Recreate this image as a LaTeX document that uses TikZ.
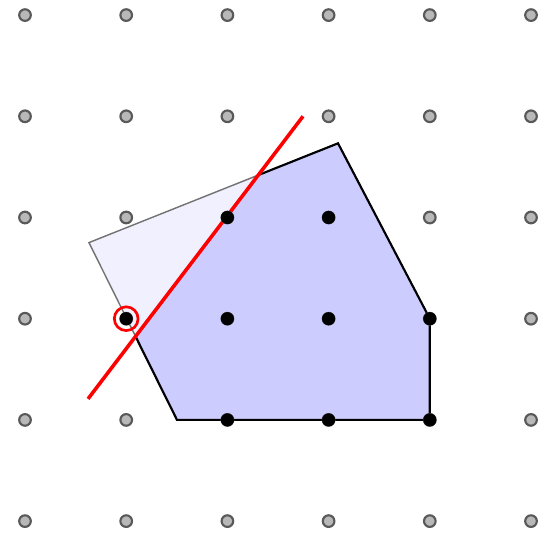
\documentclass[tikz,border=0pt]{standalone}
\begin{document}
\begin{tikzpicture}[x=1cm,y=1cm,
  graydot/.style={circle,draw=black!65,fill=black!28,line width=0.6pt,inner sep=0pt,minimum size=0.115cm},
  blackdot/.style={circle,fill=black,inner sep=0pt,minimum size=0.13cm},
  redline/.style={red,line width=1pt},
  lightpoly/.style={fill={rgb,255:red,240;green,240;blue,255},draw=black!55,line width=0.4pt},
  darkpoly/.style={fill={rgb,255:red,204;green,204;blue,255},draw=black,line width=0.6pt,line join=miter}]
\useasboundingbox (-0.247,-0.109) rectangle (5.079,5.149);
\coordinate (A) at (0.632,2.752);
\coordinate (B) at (3.093,3.733);
\coordinate (C) at (4,2);
\coordinate (D) at (4,1);
\coordinate (E) at (1.502,1);
\coordinate (L1) at (0.623,1.208);
\coordinate (L2) at (2.747,4.0);
% light polygon
\path[lightpoly] (A) -- (B) -- (C) -- (D) -- (E) -- cycle;
% dark part, right of the red line
\begin{scope}
  \clip (-1.057,-1) -- (4.269,6) -- (7,6) -- (7,-1) -- cycle;
  \path[darkpoly] (A) -- (B) -- (C) -- (D) -- (E) -- cycle;
\end{scope}
% red line
\draw[redline] (L1) -- (L2);
% lattice points
\foreach \i in {0,...,5}{
  \foreach \j in {0,...,5}{
    \node[graydot] (g\i\j) at (\i,\j) {};
  }
}
\foreach \p in {{2,3},{3,3},{1,2},{2,2},{3,2},{4,2},{2,1},{3,1},{4,1}}{
  \node[blackdot] at (\p) {};
}
\node[circle,draw=red,line width=0.75pt,minimum size=0.235cm,inner sep=0pt] (mark) at (1,2) {};
\end{tikzpicture}
\end{document}
